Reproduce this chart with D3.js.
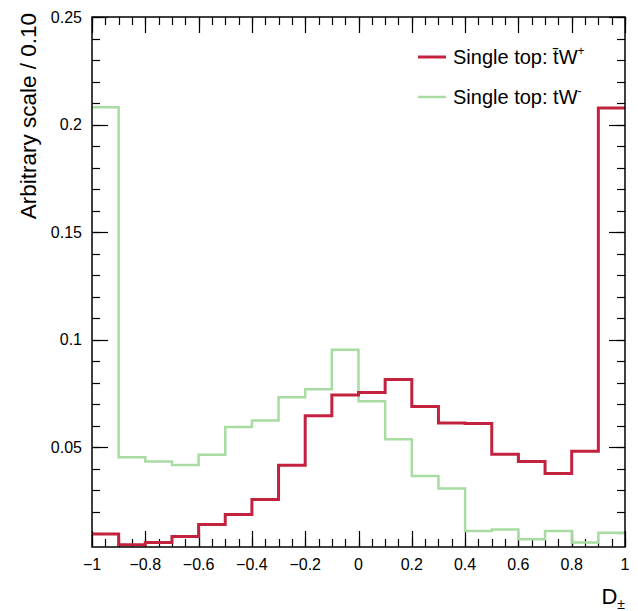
<!DOCTYPE html>
<html>
<head>
<meta charset="utf-8">
<script src="https://cdn.jsdelivr.net/npm/d3@7"></script>
<style>
  body { margin: 0; background: #fff; }
  text { font-family: "Liberation Sans", Arial, sans-serif; fill: #000; }
</style>
</head>
<body>
<div id="chart"></div>
<script>
// bin edges: 20 bins of 0.1 from -1 to 1
var binLow = [-1, -0.9, -0.8, -0.7, -0.6, -0.5, -0.4, -0.3, -0.2, -0.1,
              0, 0.1, 0.2, 0.3, 0.4, 0.5, 0.6, 0.7, 0.8, 0.9];
// Single top: tbar W+
var tbarWplus = [0.0096, 0.0045, 0.0056, 0.0084, 0.0140, 0.0186, 0.0256, 0.0415, 0.0646, 0.0742,
                 0.0753, 0.0814, 0.0688, 0.0612, 0.0609, 0.0466, 0.0433, 0.0377, 0.0480, 0.2077];
// Single top: t W-
var tWminus = [0.2080, 0.0452, 0.0433, 0.0416, 0.0464, 0.0593, 0.0623, 0.0731, 0.0769, 0.0952,
               0.0713, 0.0536, 0.0365, 0.0307, 0.0109, 0.0116, 0.0071, 0.0109, 0.0056, 0.0101];
var yTickLabels = ["0.05", "0.1", "0.15", "0.2", "0.25"];
var xTickLabels = ["\u22121", "\u22120.8", "\u22120.6", "\u22120.4", "\u22120.2", "0", "0.2", "0.4", "0.6", "0.8", "1"];

const w = 638, h = 611;
const pLeft = 92, pRight = 625, pTop = 17, pBottom = 547;

const xScale = d3.scaleLinear().domain([-1, 1]).range([pLeft, pRight]);
const yScale = d3.scaleLinear().domain([0.0035, 0.25]).range([pBottom, pTop]);

const svg = d3.select("#chart").append("svg")
  .attr("width", w).attr("height", h);

// ticks: x major every 0.2, minor every 0.05; y major every 0.05, minor every 0.01
const xMajor = d3.range(0, 11).map(i => -1 + i * 0.2);
const xMinor = d3.range(0, 41).map(i => -1 + i * 0.05);
const yMajor = d3.range(1, 6).map(i => i * 0.05);
const yMinor = d3.range(1, 26).map(i => i * 0.01);

const ticks = svg.append("g").attr("stroke", "#000").attr("stroke-width", 1.2);
xMinor.forEach(v => {
  const x = Math.round(xScale(v)) + 0.5;
  ticks.append("line").attr("x1", x).attr("x2", x).attr("y1", pBottom).attr("y2", pBottom - 8);
  ticks.append("line").attr("x1", x).attr("x2", x).attr("y1", pTop).attr("y2", pTop + 8);
});
xMajor.forEach(v => {
  const x = Math.round(xScale(v)) + 0.5;
  ticks.append("line").attr("x1", x).attr("x2", x).attr("y1", pBottom).attr("y2", pBottom - 16);
  ticks.append("line").attr("x1", x).attr("x2", x).attr("y1", pTop).attr("y2", pTop + 16);
});
yMinor.forEach(v => {
  const y = Math.round(yScale(v)) + 0.5;
  ticks.append("line").attr("x1", pLeft).attr("x2", pLeft + 8).attr("y1", y).attr("y2", y);
  ticks.append("line").attr("x1", pRight).attr("x2", pRight - 8).attr("y1", y).attr("y2", y);
});
yMajor.forEach(v => {
  const y = Math.round(yScale(v)) + 0.5;
  ticks.append("line").attr("x1", pLeft).attr("x2", pLeft + 16).attr("y1", y).attr("y2", y);
  ticks.append("line").attr("x1", pRight).attr("x2", pRight - 16).attr("y1", y).attr("y2", y);
});

// step histograms
function stepPath(vals) {
  const pts = [];
  vals.forEach((v, i) => {
    pts.push([xScale(binLow[i]), yScale(v)]);
    pts.push([xScale(binLow[i] + 0.1), yScale(v)]);
  });
  return d3.line()(pts);
}

svg.append("path").attr("d", stepPath(tWminus))
  .attr("fill", "none").attr("stroke", "#a8dca2").attr("stroke-width", 2.5);
svg.append("path").attr("d", stepPath(tbarWplus))
  .attr("fill", "none").attr("stroke", "#c3223f").attr("stroke-width", 3);

// frame
svg.append("rect")
  .attr("x", pLeft).attr("y", pTop)
  .attr("width", pRight - pLeft).attr("height", pBottom - pTop)
  .attr("fill", "none").attr("stroke", "#000").attr("stroke-width", 1.5);

// tick labels
svg.selectAll(".xl").data(xMajor).enter().append("text")
  .attr("x", d => xScale(d)).attr("y", 570)
  .attr("text-anchor", "middle").attr("font-size", 16)
  .text((d, i) => xTickLabels[i]);
svg.selectAll(".yl").data(yMajor).enter().append("text")
  .attr("x", 82).attr("y", d => yScale(d) + 5.5)
  .attr("text-anchor", "end").attr("font-size", 16)
  .text((d, i) => yTickLabels[i]);

// axis titles
svg.append("text")
  .attr("transform", "translate(36,13) rotate(-90)")
  .attr("text-anchor", "end").attr("font-size", 22.5)
  .text("Arbitrary scale / 0.10");
const xt = svg.append("text").attr("x", pRight).attr("y", 604)
  .attr("text-anchor", "end").attr("font-size", 22);
xt.append("tspan").text("D");
xt.append("tspan").attr("font-size", 14).attr("dy", 5).text("\u00b1");

// legend
const legend = [
  {label: "t\u0304W", sup: "+", color: "#c3223f", sw: 3, y: 57},
  {label: "tW", sup: "-", color: "#a8dca2", sw: 2.5, y: 97}
];
legend.forEach(d => {
  svg.append("line").attr("x1", 418).attr("x2", 446).attr("y1", d.y).attr("y2", d.y)
    .attr("stroke", d.color).attr("stroke-width", d.sw);
  const t = svg.append("text").attr("x", 453).attr("y", d.y + 7).attr("font-size", 20);
  t.append("tspan").text("Single top: " + d.label);
  t.append("tspan").attr("font-size", 12).attr("dy", -9).text(d.sup);
});
</script>
</body>
</html>
